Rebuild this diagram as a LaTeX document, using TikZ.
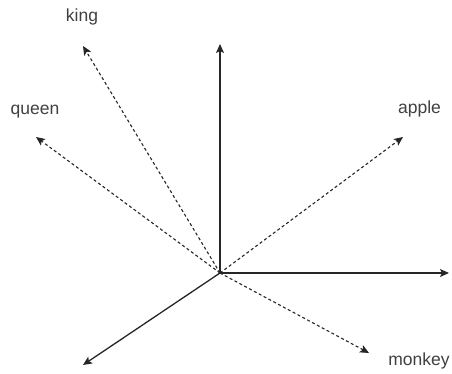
\documentclass[tikz,border=0pt]{standalone}
\usepackage{fontspec}
\setmainfont{Liberation Sans}
\usetikzlibrary{arrows.meta}

\begin{document}
\begin{tikzpicture}[x=1pt,y=1pt,>={Stealth[length=9pt,width=8pt,inset=2pt]},
  axis/.style={->,line width=1.3pt,black!85},
  word/.style={->,line width=1.1pt,black!85,dash pattern=on 3pt off 2.5pt},
  lbl/.style={anchor=base,inner sep=0pt,text=black!75,font=\fontsize{17.5}{20}\selectfont}]
\useasboundingbox (0,0) rectangle (452,374);
% origin and the three axes
\coordinate (o) at (220,101);
\coordinate (up) at (220,330);
\coordinate (right) at (449,101);
\coordinate (down) at (83,9);
\draw[axis] (o) -- (up);
\draw[axis] (o) -- (right);
\draw[axis] (o) -- (down);
% word vectors
\coordinate (kingtip) at (83,328);
\coordinate (queentip) at (36,237);
\coordinate (appletip) at (403,237);
\coordinate (monkeytip) at (369,21);
\draw[word] (o) -- (kingtip);
\draw[word] (o) -- (queentip);
\draw[word] (o) -- (appletip);
\draw[word] (o) -- (monkeytip);
\node[lbl] (king) at (82,352) {king};
\node[lbl] (queen) at (35,259) {queen};
\node[lbl] (apple) at (419.5,260.5) {apple};
\node[lbl] (monkey) at (419,8) {monkey};
\end{tikzpicture}
\end{document}
